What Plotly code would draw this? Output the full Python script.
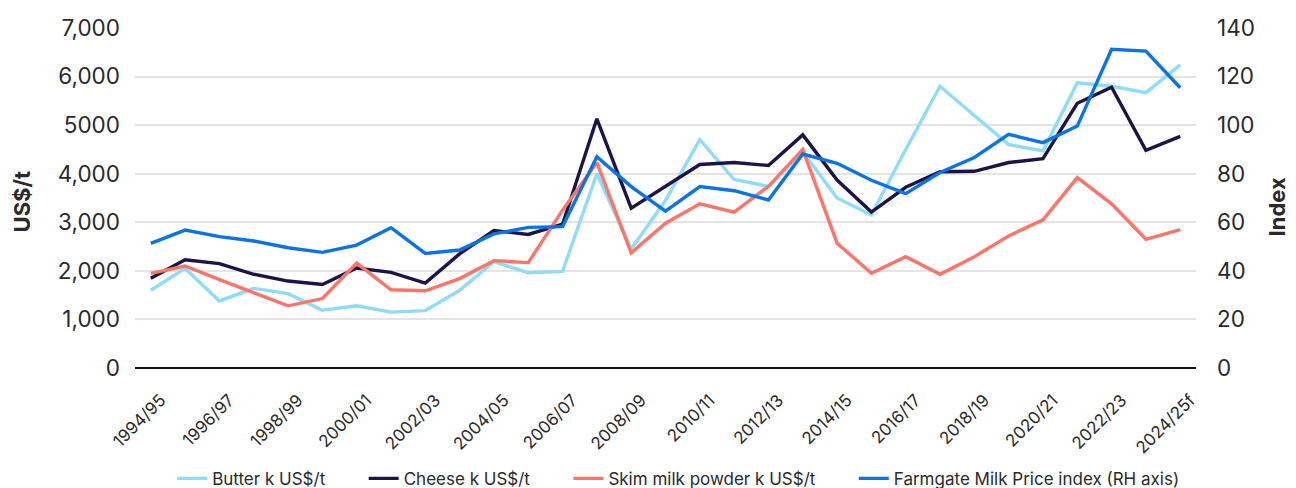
import plotly.graph_objects as go

# Seasons (July-June), last one is a forecast
periods = [
    "1994/95", "1995/96", "1996/97", "1997/98", "1998/99", "1999/00",
    "2000/01", "2001/02", "2002/03", "2003/04", "2004/05", "2005/06",
    "2006/07", "2007/08", "2008/09", "2009/10", "2010/11", "2011/12",
    "2012/13", "2013/14", "2014/15", "2015/16", "2016/17", "2017/18",
    "2018/19", "2019/20", "2020/21", "2021/22", "2022/23", "2023/24",
    "2024/25f",
]

# Dairy commodity prices, US$ per tonne
butter = [
    1600, 2050, 1380, 1640, 1530, 1190, 1280, 1150, 1180, 1600,
    2190, 1960, 1990, 4000, 2450, 3450, 4700, 3880, 3740, 4450,
    3500, 3150, 4500, 5800, 5200, 4600, 4470, 5870, 5800, 5670,
    6240,
]
cheese = [
    1850, 2230, 2150, 1930, 1790, 1720, 2060, 1970, 1750, 2350,
    2830, 2750, 2960, 5130, 3290, 3730, 4190, 4230, 4170, 4800,
    3870, 3210, 3720, 4040, 4050, 4230, 4310, 5450, 5780, 4480,
    4770,
]
skim_milk_powder = [
    1950, 2100, 1820, 1550, 1280, 1430, 2160, 1610, 1590, 1840,
    2210, 2170, 3250, 4230, 2370, 2980, 3380, 3210, 3740, 4500,
    2570, 1950, 2290, 1930, 2290, 2720, 3050, 3920, 3380, 2650,
    2850,
]

# Farmgate milk price index (right-hand axis)
farmgate_index = [
    51.3, 56.8, 54.1, 52.3, 49.5, 47.6, 50.6, 57.8, 47.2, 48.6,
    55.2, 57.9, 58.2, 87.0, 74.7, 64.6, 74.7, 73.0, 69.2, 88.1,
    84.3, 77.3, 71.8, 80.5, 86.7, 96.2, 92.8, 99.6, 131.2, 130.5,
    115.4,
]

# Axis ticks
left_tickvals = [0, 1000, 2000, 3000, 4000, 5000, 6000, 7000]
left_ticktext = ["0", "1,000", "2,000", "3,000", "4,000", "5000", "6,000", "7,000"]
right_tickvals = [0, 20, 40, 60, 80, 100, 120, 140]
x_tickvals = periods[::2]

FONT = "Inter"
TEXT = "#2a2a2a"
GRID = "#e4e4e4"
LW = 3.4
PAD = "\u00a0" * 7  # extra room between legend entries

fig = go.Figure()
fig.add_trace(go.Scatter(x=periods, y=butter, name="Butter k US$/t" + PAD, mode="lines",
                         line=dict(color="#8fdcf9", width=LW)))
fig.add_trace(go.Scatter(x=periods, y=cheese, name="Cheese k US$/t" + PAD, mode="lines",
                         line=dict(color="#1b1547", width=LW)))
fig.add_trace(go.Scatter(x=periods, y=skim_milk_powder, name="Skim milk powder k US$/t" + PAD,
                         mode="lines", line=dict(color="#ff7468", width=LW)))
fig.add_trace(go.Scatter(x=periods, y=farmgate_index, name="Farmgate Milk Price index (RH axis)",
                         mode="lines", yaxis="y2", line=dict(color="#0b74e5", width=LW)))

fig.update_layout(
    width=1296, height=488,
    margin=dict(l=135, r=100, t=28, b=120, autoexpand=False),
    paper_bgcolor="white", plot_bgcolor="white",
    font=dict(family=FONT, color=TEXT),
    showlegend=True,
    legend=dict(orientation="h", x=0.035, xanchor="left", y=-0.326, yanchor="middle",
                font=dict(size=17, color=TEXT), itemwidth=30, tracegroupgap=0,
                bgcolor="rgba(0,0,0,0)"),
    xaxis=dict(
        type="category", range=[-0.46, 30.46],
        tickmode="array", tickvals=x_tickvals, ticktext=x_tickvals,
        tickangle=-45, tickfont=dict(size=17, color=TEXT),
        showgrid=False, showline=False, ticks="", zeroline=False,
        ticklabelstandoff=18, ticklabelshift=10, automargin=False,
    ),
    yaxis=dict(
        range=[0, 7000], tickmode="array", tickvals=left_tickvals, ticktext=left_ticktext,
        tickfont=dict(size=22.5, color=TEXT), showgrid=True, gridcolor=GRID, gridwidth=1.5,
        zeroline=True, zerolinecolor="#111111", zerolinewidth=1.5,
        showline=False, ticks="", ticklabelstandoff=14, automargin=False,
    ),
    yaxis2=dict(
        range=[0, 140], overlaying="y", side="right",
        tickmode="array", tickvals=right_tickvals,
        tickfont=dict(size=22.5, color=TEXT), showgrid=False, zeroline=False,
        showline=False, ticks="", ticklabelstandoff=20, automargin=False,
    ),
    annotations=[
        dict(text="<b>US$/t</b>", xref="paper", yref="paper", x=-0.1065, y=0.49,
             textangle=-90, showarrow=False, font=dict(size=22, color=TEXT),
             xanchor="center", yanchor="middle"),
        dict(text="<b>Index</b>", xref="paper", yref="paper", x=1.0763, y=0.475,
             textangle=-90, showarrow=False, font=dict(size=22, color=TEXT),
             xanchor="center", yanchor="middle"),
    ],
)

fig.write_html("out.html")
